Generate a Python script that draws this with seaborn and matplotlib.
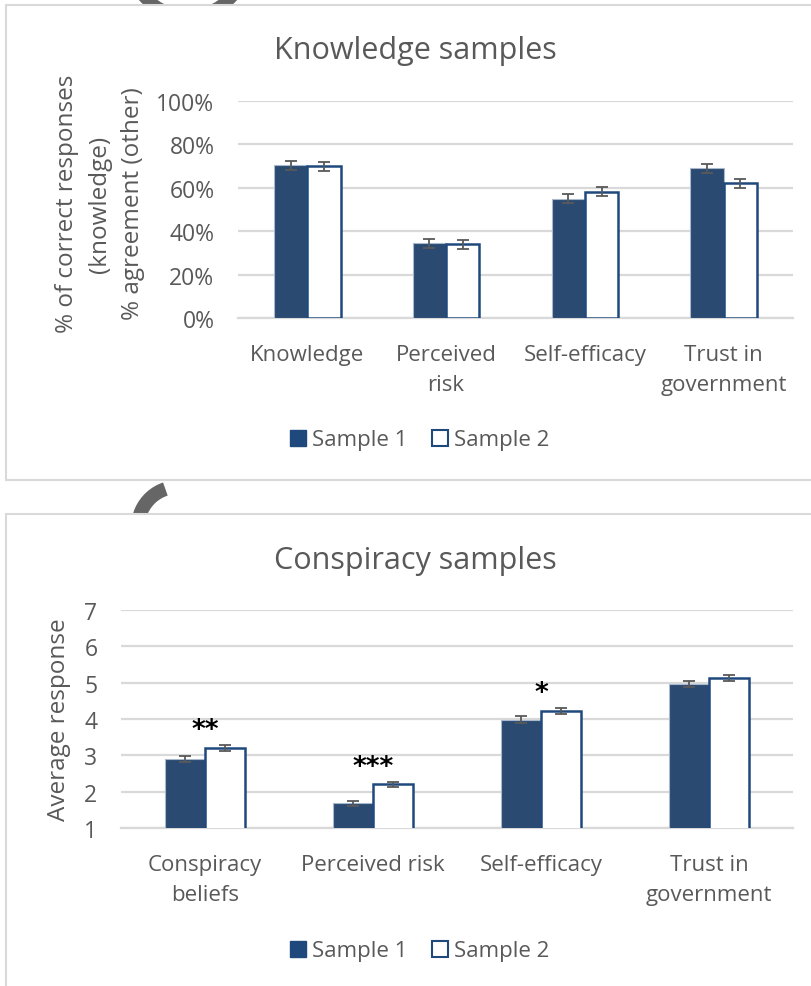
import matplotlib.pyplot as plt
import numpy as np
import pandas as pd
import seaborn as sns
from matplotlib.patches import Patch, Rectangle, Arc

# chart values
know_cats = ["Knowledge", "Perceived\nrisk", "Self-efficacy", "Trust in\ngovernment"]
know_s1 = [0.704, 0.345, 0.55, 0.689]
know_s2 = [0.70, 0.339, 0.581, 0.62]
know_err1 = [0.021, 0.021, 0.021, 0.021]
know_err2 = [0.021, 0.021, 0.021, 0.021]

consp_cats = ["Conspiracy\nbeliefs", "Perceived risk", "Self-efficacy", "Trust in\ngovernment"]
consp_s1 = [2.90, 1.68, 3.98, 4.97]
consp_s2 = [3.21, 2.20, 4.23, 5.12]
consp_err1 = [0.074, 0.069, 0.096, 0.083]
consp_err2 = [0.083, 0.078, 0.083, 0.083]
consp_sig = ["**", "***", "*", ""]

samples = ["Sample 1", "Sample 2"]

BLUE = "#1F497D"
GREY_TXT = "#595959"
GRID = "#D9D9D9"
W, H = 812, 987

sns.set_theme(style="white")
plt.rcParams["font.family"] = ["Open Sans", "DejaVu Sans"]
plt.rcParams["text.color"] = GREY_TXT


def fx(x):
    return x / W


def fy(y):
    return 1 - y / H


def draw_panel(ax, cats, s1, s2, e1, e2, ylim, yticks, yfmt, ylabel):
    df = pd.DataFrame({
        "cat": cats * 2,
        "value": s1 + s2,
        "sample": [samples[0]] * len(cats) + [samples[1]] * len(cats),
    })
    sns.barplot(data=df, x="cat", y="value", hue="sample", order=cats,
                hue_order=samples, palette=[BLUE, "white"], width=0.48,
                errorbar=None, legend=False, ax=ax, zorder=3)
    for cont, errs in zip(ax.containers, [e1, e2]):
        for bar, err in zip(cont, errs):
            cx = bar.get_x() + bar.get_width() / 2
            ax.errorbar(cx, bar.get_height(), yerr=err, color=GREY_TXT,
                        capsize=4.5, elinewidth=1.3, capthick=1.3, zorder=5)
    for bar in ax.containers[0]:
        bar.set_edgecolor("#A9B8CC")
        bar.set_linewidth(0.8)
    for bar in ax.containers[1]:
        bar.set_edgecolor(BLUE)
        bar.set_linewidth(1.8)
    ax.set_xlim(-0.5, len(cats) - 0.5)
    ax.set_ylim(*ylim)
    ax.set_yticks(yticks)
    ax.set_yticklabels([yfmt(v) for v in yticks])
    ax.yaxis.grid(True, color=GRID, linewidth=1.6, zorder=0)
    ax.set_axisbelow(True)
    for s in ["top", "right", "left"]:
        ax.spines[s].set_visible(False)
    ax.spines["bottom"].set_color(GRID)
    ax.spines["bottom"].set_linewidth(1.6)
    ax.tick_params(axis="both", length=0, colors=GREY_TXT)
    ax.tick_params(axis="y", pad=17, labelsize=16.5)
    ax.tick_params(axis="x", pad=19, labelsize=16)
    for lab in ax.get_xticklabels():
        lab.set_linespacing(1.55)
    ax.set_xlabel("")
    ax.set_ylabel(ylabel, fontsize=17.5, color=GREY_TXT, linespacing=1.5)
    ax.set_facecolor("none")


fig = plt.figure(figsize=(W / 100, H / 100), dpi=100)

# stray bracket pieces from the source page
fig.add_artist(Arc((fx(188), fy(-42)), 118 / W, 118 / H, theta1=180, theta2=360,
                   transform=fig.transFigure, color="#666666", lw=9, zorder=-3))
fig.add_artist(Arc((fx(178), fy(528)), 80 / W, 80 / H, theta1=112, theta2=200,
                   transform=fig.transFigure, color="#666666", lw=10, zorder=-3))

# panel frames
fig.add_artist(Rectangle((fx(6), fy(481)), fx(830), (481 - 6) / H, transform=fig.transFigure,
                         facecolor="white", edgecolor=GRID, lw=1.5, zorder=-1))
fig.add_artist(Rectangle((fx(6), fy(1010)), fx(830), (1010 - 515) / H, transform=fig.transFigure,
                         facecolor="white", edgecolor=GRID, lw=1.5, zorder=-1))

ax1 = fig.add_axes([fx(238), fy(319), (793 - 238) / W, (319 - 102) / H])
draw_panel(ax1, know_cats, know_s1, know_s2, know_err1, know_err2, (0, 1),
           [0, 0.2, 0.4, 0.6, 0.8, 1.0], lambda v: f"{v:.0%}",
           "% of correct responses\n(knowledge)\n% agreement (other)")
ax1.yaxis.set_label_coords(-0.168, 0.53, transform=ax1.transAxes)

ax2 = fig.add_axes([fx(121), fy(829), (793 - 121) / W, (829 - 611) / H])
draw_panel(ax2, consp_cats, consp_s1, consp_s2, consp_err1, consp_err2, (1, 7),
           [1, 2, 3, 4, 5, 6, 7], lambda v: f"{v}", "Average response")
ax2.yaxis.set_label_coords(-0.074, 0.5, transform=ax2.transAxes)

for i, mark in enumerate(consp_sig):
    if mark:
        top = max(consp_s1[i] + consp_err1[i], consp_s2[i] + consp_err2[i])
        ax2.text(i, top + 0.4, mark, ha="center", va="center", fontsize=19,
                 fontweight="bold", color="black", family="DejaVu Sans")

fig.text(fx(415), fy(51), "Knowledge samples", ha="center", va="center", fontsize=22)
fig.text(fx(415), fy(561), "Conspiracy samples", ha="center", va="center", fontsize=22)

handles = [Patch(facecolor=BLUE, edgecolor=BLUE), Patch(facecolor="white", edgecolor=BLUE, lw=1.5)]
for ycen in (441, 952):
    fig.legend(handles, samples, loc="center", bbox_to_anchor=(fx(420), fy(ycen)), ncol=2,
               frameon=False, fontsize=16, handlelength=0.7, handleheight=0.7,
               handletextpad=0.3, columnspacing=1.1, labelcolor=GREY_TXT)

fig.savefig("out.png", dpi=100)
